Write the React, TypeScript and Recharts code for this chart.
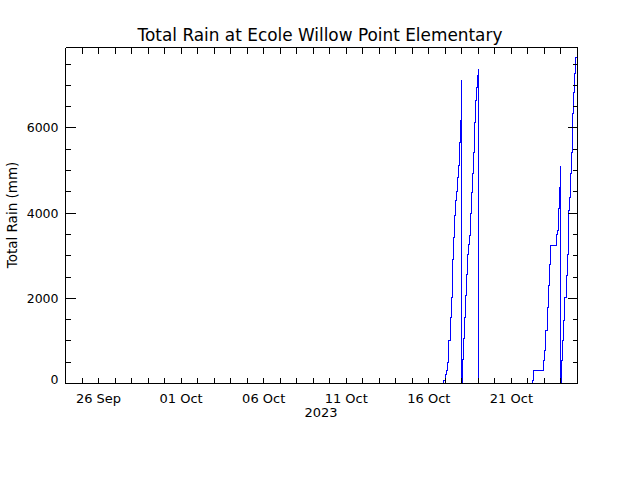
import React from "react";
import { LineChart, Line, XAxis, YAxis } from "recharts";

// cumulative rain readings (UTC), null breaks the line
const rainTimes = [
  "2023-10-16 19:50", "2023-10-16 21:15", "2023-10-17 00:10", "2023-10-17 01:40",
  "2023-10-17 02:40", "2023-10-17 05:00", "2023-10-17 07:30", "2023-10-17 08:55",
  "2023-10-17 10:50", "2023-10-17 12:15", "2023-10-17 13:45", "2023-10-17 15:10",
  "2023-10-17 16:10", "2023-10-17 18:05", "2023-10-17 19:30", "2023-10-17 21:00",
  "2023-10-17 22:00", "2023-10-17 22:50", "2023-10-17 23:15", "2023-10-18 00:00",
  "2023-10-18 00:55", "2023-10-18 02:20", "2023-10-18 03:20", "2023-10-18 04:50",
  "2023-10-18 06:15", "2023-10-18 07:45", "2023-10-18 09:10", "2023-10-18 10:40",
  "2023-10-18 12:05", "2023-10-18 13:00", "2023-10-18 14:25", "2023-10-18 15:50",
  "2023-10-18 17:20", "2023-10-18 18:45", "2023-10-18 20:15", "2023-10-18 21:40",
  "2023-10-18 22:40", "2023-10-18 23:25", "2023-10-19 00:50", "2023-10-19 01:00",
  "2023-10-22 06:10", "2023-10-22 07:00", "2023-10-22 08:05", "2023-10-22 23:00",
  "2023-10-23 00:30", "2023-10-23 01:30", "2023-10-23 04:00", "2023-10-23 05:25",
  "2023-10-23 07:20", "2023-10-23 09:15", "2023-10-23 17:30", "2023-10-23 19:25",
  "2023-10-23 20:50", "2023-10-23 22:15", "2023-10-23 23:20", "2023-10-24 00:00",
  "2023-10-24 00:20", "2023-10-24 02:40", "2023-10-24 04:05", "2023-10-24 05:35",
  "2023-10-24 07:35", "2023-10-24 09:05", "2023-10-24 10:30", "2023-10-24 11:20",
  "2023-10-24 12:25", "2023-10-24 13:50", "2023-10-24 14:50", "2023-10-24 16:20",
  "2023-10-24 17:10", "2023-10-24 18:40", "2023-10-24 19:40", "2023-10-24 21:05",
  "2023-10-24 22:35",
];

const rainMm: (number | null)[] = [
  0, 60, 220, 300,
  490, 1000, 1550, 2020,
  2920, 3430, 3940, 4290,
  4520, 4840, 5110, 5660,
  6170, 6680, 7110, 0,
  570, 1050, 1550, 2060,
  2570, 3040, 3270, 3470,
  3700, 3990, 4490, 4920,
  5430, 6130, 6640, 6950,
  7230, 7370, 0, null,
  0, 60, 300, 530,
  770, 1240, 1790, 2300,
  2800, 3230, 3510, 3590,
  4100, 4600, 5090, 0,
  530, 1000, 1470, 2020,
  2530, 3040, 3510, 4060,
  4370, 4920, 5430, 5940,
  6330, 6840, 7270, 7660,
  7660,
];

const xLabelDates = ["2023-09-26", "2023-10-01", "2023-10-06", "2023-10-11", "2023-10-16", "2023-10-21"];
const xLabelTexts = ["26 Sep", "01 Oct", "06 Oct", "11 Oct", "16 Oct", "21 Oct"];

const yTicks = [0, 500, 1000, 1500, 2000, 2500, 3000, 3500, 4000, 4500, 5000, 5500, 6000, 6500, 7000, 7500];
const yLabelValues = [0, 2000, 4000, 6000];

const X_START = "2023-09-24";
const X_END = "2023-10-25";
const Y_MAX = 7890;

const FONT = "'DejaVu Sans', sans-serif";
const DAY = 86400000;

const toMs = (s: string) => Date.parse(s.replace(" ", "T") + (s.length > 10 ? ":00Z" : "T00:00:00Z"));

const data = rainTimes.map((t, i) => ({ t: toMs(t), mm: rainMm[i] }));
const xStart = toMs(X_START);
const xEnd = toMs(X_END);
const dayTicks: number[] = [];
for (let t = xStart; t <= xEnd; t += DAY) dayTicks.push(t);
const xLabelMs = xLabelDates.map(toMs);

const snap = (v: number) => Math.round(v - 0.5) + 0.5;

// IDL style: ticks point into the plot
const BottomTick = (props: any) => {
  const { x, y, payload } = props;
  const i = xLabelMs.indexOf(payload.value);
  const px = snap(x);
  return (
    <g>
      <line x1={px} x2={px} y1={y} y2={y - 6} stroke="#000" />
      {i >= 0 && (
        <text x={x} y={y + 19} textAnchor="middle" fontFamily={FONT} fontSize={13} fill="#000">
          {xLabelTexts[i]}
        </text>
      )}
    </g>
  );
};

const TopTick = (props: any) => {
  const { x, y } = props;
  const px = snap(x);
  return <line x1={px} x2={px} y1={y} y2={y + 6} stroke="#000" />;
};

const LeftTick = (props: any) => {
  const { x, y, payload } = props;
  const major = yLabelValues.includes(payload.value);
  const py = snap(y);
  // bottom label sits a little higher, like the original
  const ly = payload.value === 0 ? y + 0.5 : y + 4.5;
  return (
    <g>
      <line x1={x} x2={x + (major ? 10 : 5)} y1={py} y2={py} stroke="#000" />
      {major && (
        <text x={x - 7} y={ly} textAnchor="end" fontFamily={FONT} fontSize={12.5} fill="#000">
          {payload.value}
        </text>
      )}
    </g>
  );
};

const RightTick = (props: any) => {
  const { x, y, payload } = props;
  const major = yLabelValues.includes(payload.value);
  const py = snap(y);
  return <line x1={x} x2={x - (major ? 10 : 5)} y1={py} y2={py} stroke="#000" />;
};

export default function App() {
  return (
    <div style={{ position: "relative", width: 640, height: 480, background: "#fff" }}>
      <style>{`body { margin: 0; }`}</style>
      <LineChart
        width={640}
        height={480}
        data={data}
        margin={{ top: 37.5, right: 52.5, bottom: 66.5, left: 25.5 }}
        style={{ shapeRendering: "crispEdges" }}
      >
        <XAxis
          xAxisId="b"
          dataKey="t"
          type="number"
          domain={[xStart, xEnd]}
          allowDataOverflow
          ticks={dayTicks}
          interval={0}
          height={30}
          tickSize={0}
          tickMargin={0}
          tickLine={false}
          axisLine={{ stroke: "#000" }}
          tick={BottomTick}
        />
        <XAxis
          xAxisId="t"
          orientation="top"
          dataKey="t"
          type="number"
          domain={[xStart, xEnd]}
          allowDataOverflow
          ticks={dayTicks}
          interval={0}
          height={10}
          tickSize={0}
          tickMargin={0}
          tickLine={false}
          axisLine={{ stroke: "#000" }}
          tick={TopTick}
        />
        <YAxis
          yAxisId="l"
          type="number"
          domain={[0, Y_MAX]}
          allowDataOverflow
          ticks={yTicks}
          interval={0}
          width={40}
          tickSize={0}
          tickMargin={0}
          tickLine={false}
          axisLine={{ stroke: "#000" }}
          tick={LeftTick}
        />
        <YAxis
          yAxisId="r"
          orientation="right"
          type="number"
          domain={[0, Y_MAX]}
          allowDataOverflow
          ticks={yTicks}
          interval={0}
          width={10}
          tickSize={0}
          tickMargin={0}
          tickLine={false}
          axisLine={{ stroke: "#000" }}
          tick={RightTick}
        />
        <Line
          xAxisId="b"
          yAxisId="l"
          dataKey="mm"
          type="stepAfter"
          stroke="#0000ff"
          strokeWidth={1}
          dot={false}
          activeDot={false}
          connectNulls={false}
          isAnimationActive={false}
        />
      </LineChart>
      <svg
        width={640}
        height={480}
        style={{ position: "absolute", left: 0, top: 0, pointerEvents: "none" }}
      >
        <text x={320} y={41} textAnchor="middle" fontFamily={FONT} fontSize={16.9} fill="#000">
          Total Rain at Ecole Willow Point Elementary
        </text>
        <text
          x={17}
          y={215}
          textAnchor="middle"
          transform="rotate(-90 17 215)"
          fontFamily={FONT}
          fontSize={13.5}
          fill="#000"
        >
          Total Rain (mm)
        </text>
        <text x={321} y={417} textAnchor="middle" fontFamily={FONT} fontSize={13} fill="#000">
          2023
        </text>
      </svg>
    </div>
  );
}
